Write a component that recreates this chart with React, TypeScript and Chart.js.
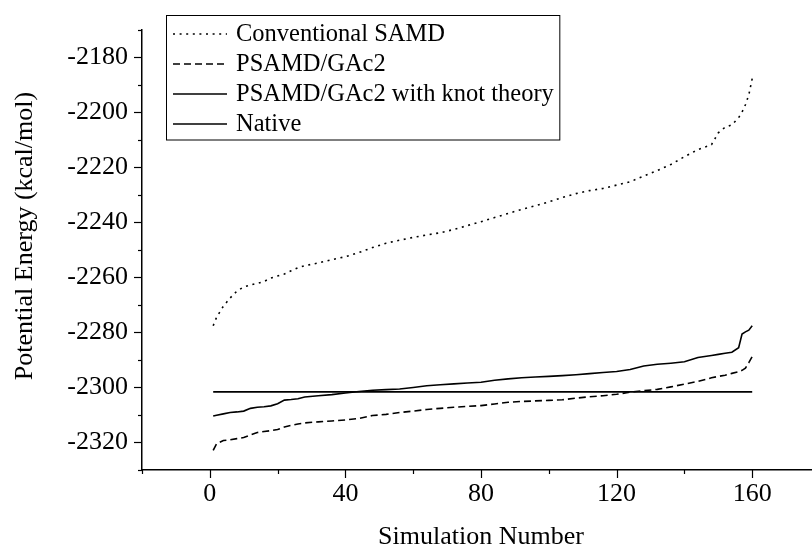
import React, { useEffect, useRef } from "react";
import { Chart, registerables } from "chart.js";

Chart.register(...registerables);

// Simulation numbers (x) at which the sorted energies were read
const SIM = [1, 2, 4, 6, 8, 10, 12, 14, 16, 18, 20, 22, 24, 26, 28, 32, 36, 40, 44, 48, 52, 56, 60, 64, 68, 72, 76, 80, 84, 88, 92, 96, 100, 104, 108, 112, 116, 120, 124, 128, 132, 136, 140, 144, 148, 150, 152, 154, 156, 157, 158, 159, 160];

const CONVENTIONAL = [-2277.6, -2274.5, -2270.5, -2267.5, -2265, -2263.5, -2262.8, -2262.2, -2261.5, -2260.3, -2259.5, -2258.8, -2257.6, -2256.5, -2255.8, -2254.8, -2253.6, -2252.5, -2251, -2249.2, -2247.6, -2246.5, -2245.5, -2244.6, -2243.8, -2242.6, -2241.2, -2239.8, -2238.3, -2236.8, -2235.3, -2234, -2232.6, -2231, -2229.6, -2228.5, -2227.7, -2226.5, -2225.3, -2223.2, -2221.2, -2219, -2216.2, -2213.6, -2211.8, -2207.5, -2205.5, -2204.6, -2202, -2200, -2197.3, -2193.7, -2187.8];

const PSAMD = [-2322.9, -2320.5, -2319.3, -2319, -2318.6, -2318.2, -2317.3, -2316.4, -2316, -2315.7, -2315.3, -2314.4, -2313.8, -2313.3, -2312.9, -2312.5, -2312.2, -2311.8, -2311.3, -2310.2, -2309.8, -2309.1, -2308.6, -2308, -2307.6, -2307.2, -2306.9, -2306.6, -2306, -2305.4, -2305.1, -2304.9, -2304.7, -2304.5, -2303.9, -2303.4, -2303, -2302.5, -2301.7, -2301.2, -2300.7, -2299.8, -2298.8, -2297.8, -2296.5, -2296, -2295.6, -2294.9, -2294.3, -2293.8, -2293, -2291, -2288.8];

const KNOT = [-2310.4, -2310.1, -2309.6, -2309.1, -2308.9, -2308.6, -2307.6, -2307.2, -2307, -2306.7, -2305.9, -2304.6, -2304.4, -2304.1, -2303.5, -2303, -2302.6, -2302, -2301.5, -2301, -2300.8, -2300.6, -2300, -2299.4, -2299, -2298.7, -2298.4, -2298.1, -2297.4, -2296.9, -2296.5, -2296.2, -2296, -2295.7, -2295.4, -2295, -2294.6, -2294.2, -2293.5, -2292.2, -2291.6, -2291.2, -2290.7, -2289.1, -2288.4, -2288, -2287.6, -2287.2, -2285.6, -2280.6, -2279.8, -2279.2, -2277.6];

const NATIVE_X = [1, 160];
const NATIVE_Y = [-2301.6, -2301.6];

const SERIES_LABELS = ["Conventional SAMD", "PSAMD/GAc2", "PSAMD/GAc2 with knot theory", "Native"];

const X_TICKS = [0, 40, 80, 120, 160];
const X_MINOR = [-20, 20, 60, 100, 140, 180];
const Y_TICKS = [-2320, -2300, -2280, -2260, -2240, -2220, -2200, -2180];
const Y_MINOR = [-2330, -2310, -2290, -2270, -2250, -2230, -2210, -2190, -2170];

const X_TITLE = "Simulation Number";
const Y_TITLE = "Potential Energy (kcal/mol)";

const FONT_FAMILY = "'Liberation Serif', 'Times New Roman', serif";
const TICK_SIZE = 26;
const TITLE_SIZE = 26;
const LEGEND_SIZE = 24.5;

const toPoints = (xs: number[], ys: number[]) => xs.map((x, i) => ({ x, y: ys[i] }));

const decorPlugin = {
  id: "decor",
  afterDraw(chart: any) {
    const { ctx, chartArea } = chart;
    const xs = chart.scales.x;
    const ys = chart.scales.y;
    ctx.save();
    ctx.strokeStyle = "#000";
    ctx.lineWidth = 1.2;
    ctx.setLineDash([]);
    const drawY = (v: number, len: number) => {
      const y = Math.round(ys.getPixelForValue(v)) + 0.5;
      ctx.beginPath();
      ctx.moveTo(chartArea.left - len, y);
      ctx.lineTo(chartArea.left, y);
      ctx.stroke();
    };
    Y_TICKS.forEach((v) => drawY(v, 8));
    Y_MINOR.forEach((v) => drawY(v, 4));
    const drawX = (v: number, len: number) => {
      const x = Math.round(xs.getPixelForValue(v)) + 0.5;
      ctx.beginPath();
      ctx.moveTo(x, chartArea.bottom);
      ctx.lineTo(x, chartArea.bottom + len);
      ctx.stroke();
    };
    X_TICKS.forEach((v) => drawX(v, 8));
    X_MINOR.forEach((v) => drawX(v, 4));

    // axis titles
    ctx.fillStyle = "#000";
    ctx.font = `${TITLE_SIZE}px ${FONT_FAMILY}`;
    ctx.textAlign = "center";
    ctx.textBaseline = "middle";
    ctx.fillText(X_TITLE, (xs.left + xs.right) / 2, 537);
    ctx.save();
    ctx.translate(25, 236);
    ctx.rotate(-Math.PI / 2);
    ctx.fillText(Y_TITLE, 0, 0);
    ctx.restore();

    // legend
    const boxLeft = 166.5;
    const boxTop = 15.5;
    const rowY = [34, 64, 94, 124];
    ctx.font = `${LEGEND_SIZE}px ${FONT_FAMILY}`;
    let maxW = 0;
    SERIES_LABELS.forEach((t) => (maxW = Math.max(maxW, ctx.measureText(t).width)));
    const boxW = 236 + maxW + 6 - boxLeft;
    const boxH = 140 - boxTop;
    ctx.lineWidth = 1;
    ctx.strokeStyle = "#000";
    ctx.strokeRect(boxLeft, boxTop, boxW, boxH);
    chart.data.datasets.forEach((ds: any, i: number) => {
      ctx.save();
      ctx.strokeStyle = ds.borderColor;
      ctx.lineWidth = ds.borderWidth;
      ctx.setLineDash(ds.borderDash || []);
      ctx.beginPath();
      ctx.moveTo(173, rowY[i]);
      ctx.lineTo(227, rowY[i]);
      ctx.stroke();
      ctx.restore();
      ctx.textAlign = "left";
      ctx.textBaseline = "middle";
      ctx.fillStyle = "#000";
      ctx.fillText(ds.label, 236, rowY[i] + 1);
    });
    ctx.restore();
  },
};

export default function App() {
  const ref = useRef<HTMLCanvasElement | null>(null);
  useEffect(() => {
    if (!ref.current) return;
    const common = { pointRadius: 0, borderColor: "#000", borderWidth: 1.6, tension: 0, fill: false };
    const chart = new Chart(ref.current, {
      type: "line",
      data: {
        datasets: [
          { ...common, label: SERIES_LABELS[0], data: toPoints(SIM, CONVENTIONAL), borderDash: [2, 4.6] },
          { ...common, label: SERIES_LABELS[1], data: toPoints(SIM, PSAMD), borderDash: [7, 4] },
          { ...common, label: SERIES_LABELS[2], data: toPoints(SIM, KNOT) },
          { ...common, label: SERIES_LABELS[3], data: toPoints(NATIVE_X, NATIVE_Y) },
        ],
      },
      options: {
        animation: false,
        responsive: false,
        layout: { padding: { top: 20, left: 0, right: 0, bottom: 0 } },
        plugins: { legend: { display: false }, tooltip: { enabled: false } },
        scales: {
          x: {
            type: "linear",
            min: -20,
            max: 180,
            grid: { display: false, drawTicks: false },
            border: { display: true, color: "#000", width: 1.5 },
            afterBuildTicks: (s: any) => {
              s.ticks = X_TICKS.map((v) => ({ value: v }));
            },
            afterFit: (s: any) => {
              s.height = 82;
            },
            ticks: {
              color: "#000",
              padding: 9,
              maxRotation: 0,
              font: { family: FONT_FAMILY, size: TICK_SIZE },
              callback: (v: any) => String(v),
            },
          },
          y: {
            type: "linear",
            min: -2330,
            max: -2170,
            grid: { display: false, drawTicks: false },
            border: { display: true, color: "#000", width: 1.5 },
            afterBuildTicks: (s: any) => {
              s.ticks = Y_TICKS.map((v) => ({ value: v }));
            },
            afterFit: (s: any) => {
              s.width = 142;
            },
            ticks: {
              color: "#000",
              padding: 14,
              font: { family: FONT_FAMILY, size: TICK_SIZE },
              callback: (v: any) => String(v),
            },
          },
        },
      },
      plugins: [decorPlugin],
    });
    return () => chart.destroy();
  }, []);
  return (
    <div style={{ position: "fixed", left: 0, top: 0, width: 812, height: 552, overflow: "hidden", background: "#fff" }}>
      <canvas ref={ref} width={820} height={552} style={{ display: "block" }} />
    </div>
  );
}
